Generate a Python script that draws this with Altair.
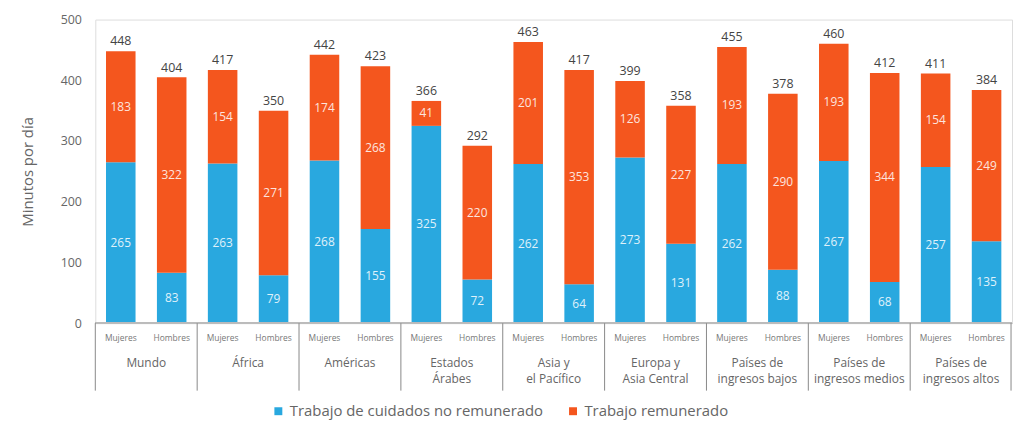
import altair as alt
import pandas as pd

groups = ["Mundo", "África", "Américas", "Estados Árabes", "Asia y el Pacífico",
          "Europa y Asia Central", "Países de ingresos bajos",
          "Países de ingresos medios", "Países de ingresos altos"]
group_labels = ["Mundo", "África", "Américas", "Estados\nÁrabes", "Asia y\nel Pacífico",
                "Europa y\nAsia Central", "Países de\ningresos bajos",
                "Países de\ningresos medios", "Países de\ningresos altos"]
sexes = ["Mujeres", "Hombres"]
unpaid_women = [265, 263, 268, 325, 262, 273, 262, 267, 257]
paid_women = [183, 154, 174, 41, 201, 126, 193, 193, 154]
unpaid_men = [83, 79, 155, 72, 64, 131, 88, 68, 135]
paid_men = [322, 271, 268, 220, 353, 227, 290, 344, 249]
totals_women = [448, 417, 442, 366, 463, 399, 455, 460, 411]
totals_men = [404, 350, 423, 292, 417, 358, 378, 412, 384]
series = ["Trabajo de cuidados no remunerado", "Trabajo remunerado"]
colors = ["#29a8df", "#f4561e"]

rows, tot_rows, sub_rows = [], [], []
order = []
for i, g in enumerate(groups):
    for s, up, pd_, tot in [("Mujeres", unpaid_women[i], paid_women[i], totals_women[i]),
                            ("Hombres", unpaid_men[i], paid_men[i], totals_men[i])]:
        key = f"{g}|{s}"
        order.append(key)
        rows.append(dict(pos=key, tipo=series[0], ord=0, value=up, mid=up / 2))
        rows.append(dict(pos=key, tipo=series[1], ord=1, value=pd_, mid=up + pd_ / 2))
        tot_rows.append(dict(pos=key, total=tot))
        sub_rows.append(dict(pos=key, sex=s))
df = pd.DataFrame(rows)
tot_df = pd.DataFrame(tot_rows)
sub_df = pd.DataFrame(sub_rows)
grp_df = pd.DataFrame(dict(pos=[f"{g}|Mujeres" for g in groups], label=group_labels))
end_df = pd.DataFrame(dict(pos=[f"{groups[-1]}|Hombres"]))

STEP = 924 / 18
xscale = alt.Scale(domain=order, paddingInner=0.42, paddingOuter=0.21)
X = alt.X("pos:N", scale=xscale, sort=order, axis=None)
FONT = "Open Sans"

bars = alt.Chart(df).mark_bar().encode(
    x=X,
    y=alt.Y("value:Q", stack="zero", scale=alt.Scale(domain=[0, 500]),
            axis=alt.Axis(values=[0, 100, 200, 300, 400, 500], title="Minutos por día",
                          grid=False, domain=False, ticks=False, labelPadding=14,
                          labelColor="#666", labelFontSize=12.5, titleColor="#666",
                          titleFontSize=15, titleFontWeight="normal", titlePadding=25)),
    color=alt.Color("tipo:N", scale=alt.Scale(domain=series, range=colors),
                    legend=alt.Legend(title=None, orient="none", legendX=177, legendY=387,
                                      direction="horizontal", symbolType="square",
                                      symbolSize=64, labelFontSize=15, labelColor="#666",
                                      labelLimit=400, columnPadding=22, labelFont=FONT)),
    order=alt.Order("ord:Q"),
)

seg_text = alt.Chart(df).mark_text(color="white", opacity=0.85, fontSize=12, font=FONT,
                                   baseline="middle").encode(
    x=X, y=alt.Y("mid:Q"), text=alt.Text("value:Q"))

tot_text = alt.Chart(tot_df).mark_text(color="#444", fontSize=12.5, font=FONT, baseline="bottom", dy=-3).encode(
    x=X, y=alt.Y("total:Q"), text=alt.Text("total:Q"))

baseline = alt.Chart(tot_df).mark_rule(color="#bbb", strokeWidth=1).encode(
    x=alt.value(0), x2=alt.value(924), y=alt.value(306))

sub_text = alt.Chart(sub_df).mark_text(color="#777", fontSize=8.5, font=FONT, baseline="middle").encode(
    x=X, y=alt.value(321), text="sex:N")

grp_text = alt.Chart(grp_df).mark_text(color="#666", fontSize=12, font=FONT, baseline="top",
                                       lineBreak="\n", lineHeight=16, dx=STEP / 2).encode(
    x=X, y=alt.value(341), text="label:N")

seps = alt.Chart(grp_df).mark_rule(color="#888", strokeWidth=1, xOffset=-STEP / 2).encode(
    x=X, y=alt.value(306), y2=alt.value(374))

end_sep = alt.Chart(end_df).mark_rule(color="#888", strokeWidth=1, xOffset=STEP / 2 - 1).encode(
    x=X, y=alt.value(306), y2=alt.value(374))

chart = alt.layer(bars, seg_text, tot_text, baseline, sub_text, grp_text, seps, end_sep).properties(
    width=924, height=306,
    autosize=alt.AutoSizeParams(type="none"),
    padding={"left": 88, "top": 10, "right": 4, "bottom": 105},
).configure_view(stroke=None).configure(font=FONT)

chart.save("out.html", embed_options={"renderer": "svg", "actions": False})
